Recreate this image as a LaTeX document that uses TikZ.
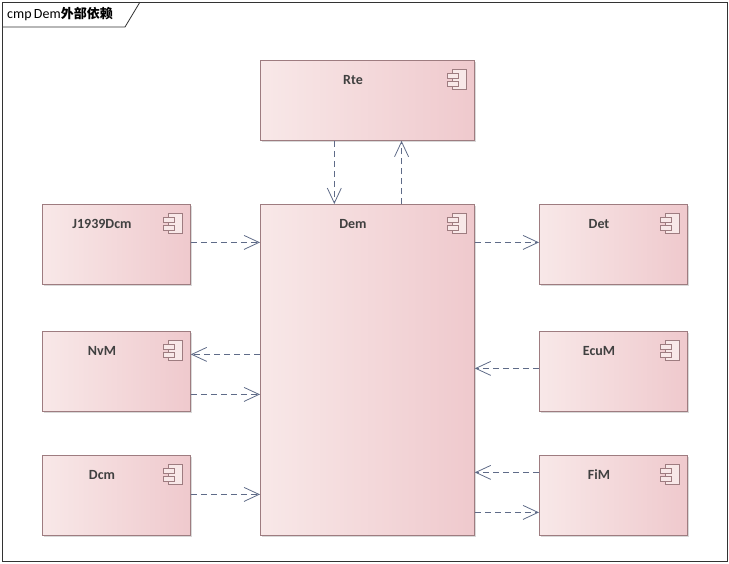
\documentclass[tikz,border=0pt]{standalone}
\usepackage{fontspec}
\setmainfont{Carlito}
\newfontfamily\cjk{Noto Sans CJK SC}
\usetikzlibrary{calc,arrows.meta,shadows}
\definecolor{bord}{HTML}{9E7C80}
\definecolor{arr}{HTML}{5F6B88}
\definecolor{fl}{HTML}{F8E8E8}
\definecolor{fr}{HTML}{EFC9CD}
\tikzset{
 comp/.style={draw=bord,line width=0.8pt,left color=fl,right color=fr,anchor=north west,inner sep=0pt,
   drop shadow={shadow xshift=2pt,shadow yshift=-2pt,fill=black!25,opacity=0.6}},
 lab/.style={font=\fontsize{14}{16}\selectfont\bfseries,text=black!75},
 dep/.style={draw=arr,line width=0.8pt,dash pattern=on 6pt off 4pt,-{Straight Barb[length=15pt,width=14pt,line width=0.8pt]}},
 pics/icon/.style={code={
   \draw[bord,fill=fl,line width=0.8pt] (0,0) rectangle (14,20);
   \draw[bord,fill=fl,line width=0.8pt] (-5,4) rectangle (6,9);
   \draw[bord,fill=fl,line width=0.8pt] (-5,12) rectangle (6,17);
 }}
}
\newcommand{\comp}[6]{% name, x1,y1,x2,y2,label
 \node[comp,minimum width=#4-#2,minimum height=#5-#3] (#1) at (#2,#3) {};
 \node[lab] (#1l) at ({(#2+#4)/2-14},#3+20) {#6};
 \pic at (#4-22,#3+9) {icon};
}
\begin{document}
\begin{tikzpicture}[x=1pt,y=-1pt]
\useasboundingbox (0,0) rectangle (729,563);
\draw[black!80,line width=0.8pt] (2,2) rectangle (727,561);
\draw[black!80,line width=0.8pt] (2,27) -- (125,27) -- (140,2);
\node[anchor=west,inner sep=0pt,font=\fontsize{14}{16}\selectfont] (title) at (7,14) {cmp\,Dem{\cjk\bfseries\fontsize{13}{15}\selectfont 外部依赖}};
\comp{R}{260}{60}{474}{140}{Rte}
\comp{D}{260}{204}{474}{535}{Dem}
\comp{J}{42}{204}{190}{284}{J1939Dcm}
\comp{N}{42}{331}{190}{411}{NvM}
\comp{C}{42}{455}{190}{535}{Dcm}
\comp{T}{539}{204}{687}{284}{Det}
\comp{E}{539}{331}{687}{411}{EcuM}
\comp{F}{539}{455}{687}{535}{FiM}
\coordinate (a1) at ($(R.south west)!0.346!(R.south east)$);
\coordinate (a2) at ($(R.south west)!0.659!(R.south east)$);
\draw[dep] (a1) -- (a1 |- D.north);
\draw[dep] (a2 |- D.north) -- (a2);
\draw[dep] ([yshift=2]J.east) -- ([yshift=2]J.east -| D.west);
\draw[dep] ([yshift=2]J.east -| D.east) -- ([yshift=2]T.west);
\draw[dep] ([yshift=17]N.east -| D.west) -- ([yshift=17]N.east);
\draw[dep] ([yshift=-23]N.east) -- ([yshift=-23]N.east -| D.west);
\draw[dep] ([yshift=3]E.west) -- ([yshift=3]E.west -| D.east);
\draw[dep] ([yshift=23]F.west) -- ([yshift=23]F.west -| D.east);
\draw[dep] ([yshift=-17]F.west -| D.east) -- ([yshift=-17]F.west);
\draw[dep] ([yshift=1]C.east) -- ([yshift=1]C.east -| D.west);
\end{tikzpicture}
\end{document}
